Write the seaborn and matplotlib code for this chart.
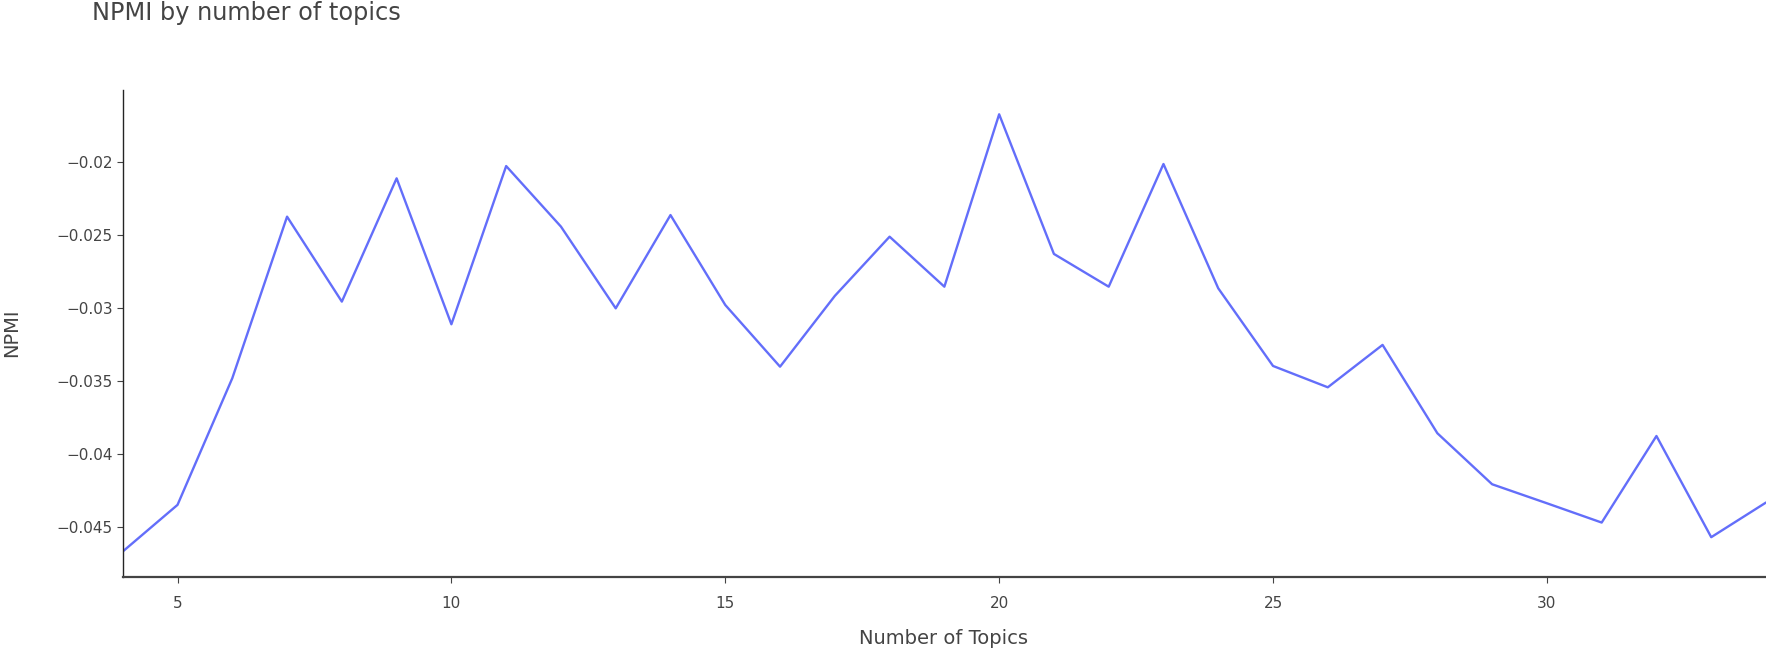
import pandas as pd
import matplotlib
matplotlib.use("Agg")
import matplotlib.pyplot as plt
import seaborn as sns

# NPMI values
topics = [4, 5, 6, 7, 8, 9, 10, 11, 12, 13, 14, 15, 16, 17, 18, 19,
          20, 21, 22, 23, 24, 25, 26, 27, 28, 29, 30, 31, 32, 33, 34]
npmi = [-0.04666, -0.04347, -0.03481, -0.02376, -0.02957, -0.02114,
        -0.03112, -0.02030, -0.02444, -0.03003, -0.02365, -0.02980,
        -0.03402, -0.02918, -0.02513, -0.02855, -0.01676, -0.02631,
        -0.02855, -0.02016, -0.02866, -0.03397, -0.03543, -0.03253,
        -0.03857, -0.04206, -0.04336, -0.04468, -0.03876, -0.04568,
        -0.04331]
x_ticks = [5, 10, 15, 20, 25, 30]
y_ticks = [-0.045, -0.04, -0.035, -0.03, -0.025, -0.02]

df = pd.DataFrame({"Number of Topics": topics, "NPMI": npmi})

sns.set_style("ticks")
plt.rcParams["font.family"] = ["DejaVu Sans"]
text_color = "#444444"

fig = plt.figure(figsize=(17.66, 6.49), dpi=100)
ax = fig.add_axes([0.0695, 0.111, 0.9305, 0.7503])

sns.lineplot(data=df, x="Number of Topics", y="NPMI", ax=ax,
             color="#636efa", linewidth=1.7)

ax.set_xlim(4, 34)
ax.set_ylim(-0.0484, -0.0151)
ax.set_xticks(x_ticks)
ax.set_xticklabels([str(t) for t in x_ticks])
ax.set_yticks(y_ticks)
ax.set_yticklabels([f"{t:g}".replace("-", "\u2212") for t in y_ticks])

for side in ["top", "right"]:
    ax.spines[side].set_visible(False)
ax.spines["left"].set_color("#242424")
ax.spines["bottom"].set_color("#444444")
ax.spines["left"].set_linewidth(1.0)
ax.spines["bottom"].set_linewidth(1.6)

ax.tick_params(axis="both", direction="out", length=4, width=0.8,
               color="#444444", labelsize=11, labelcolor=text_color)
ax.tick_params(axis="x", pad=10)
ax.tick_params(axis="y", pad=3)

ax.set_xlabel("")
ax.set_ylabel("")
fig.text(0.5345, 1 - 638 / 649, "Number of Topics", ha="center", va="center",
         fontsize=14, color=text_color)
fig.text(12 / 1766, 1 - 333 / 649, "NPMI", ha="center", va="center",
         rotation=90, fontsize=14, color=text_color)

fig.text(92 / 1766, 1 - 13 / 649, "NPMI by number of topics", ha="left",
         va="center", fontsize=17.3, color=text_color)

fig.savefig("out.png", dpi=100, facecolor="white")
